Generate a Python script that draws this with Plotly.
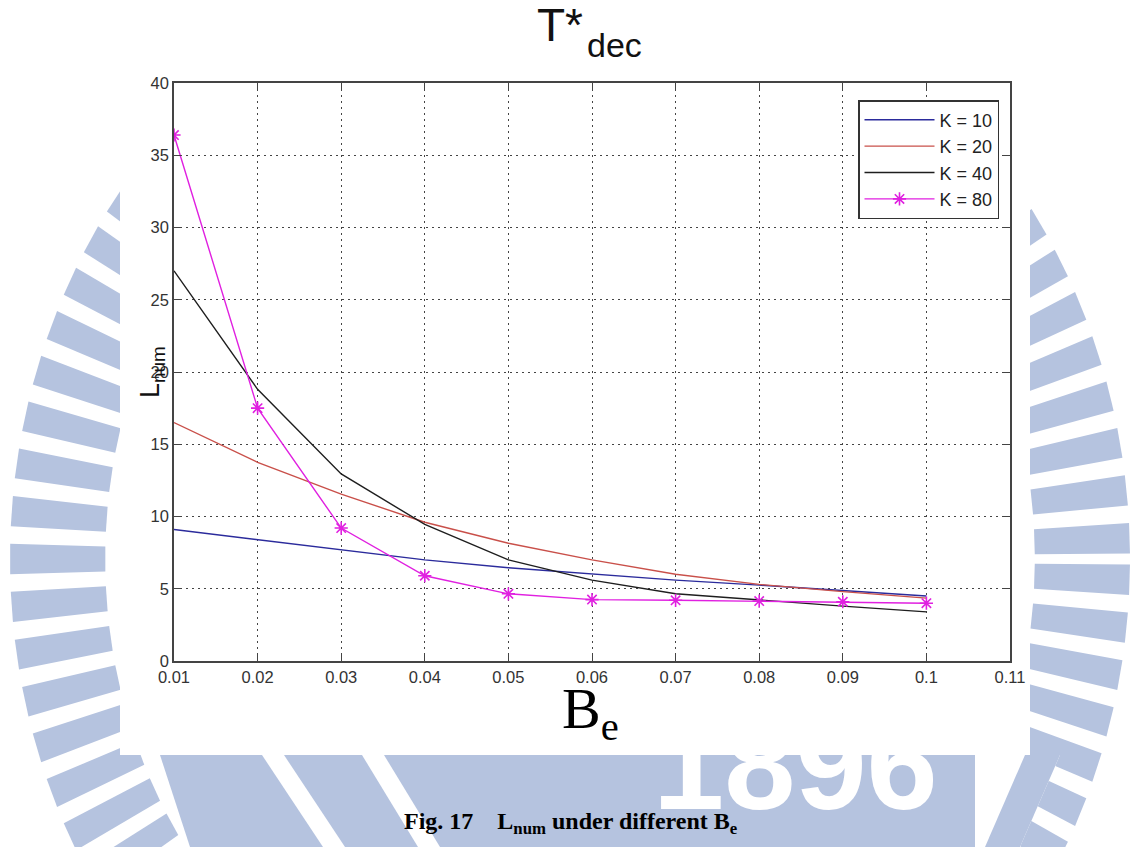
import math
import plotly.graph_objects as go

# ---------------- data ----------------
be_values = [0.01, 0.02, 0.03, 0.04, 0.05, 0.06, 0.07, 0.08, 0.09, 0.10]
k10_values = [9.1, 8.4, 7.65, 7.0, 6.45, 6.0, 5.6, 5.25, 4.85, 4.5]
k20_values = [16.5, 13.75, 11.55, 9.6, 8.15, 7.0, 6.0, 5.3, 4.8, 4.35]
k40_values = [27.0, 18.8, 12.95, 9.45, 7.0, 5.6, 4.65, 4.2, 3.8, 3.4]
k80_values = [36.4, 17.5, 9.2, 5.9, 4.65, 4.25, 4.2, 4.15, 4.1, 4.0]
series_names = ["K = 10", "K = 20", "K = 40", "K = 80"]
x_tick_vals = [0.01, 0.02, 0.03, 0.04, 0.05, 0.06, 0.07, 0.08, 0.09, 0.10, 0.11]
x_tick_text = ["0.01", "0.02", "0.03", "0.04", "0.05", "0.06", "0.07", "0.08", "0.09", "0.1", "0.11"]
y_tick_vals = [0, 5, 10, 15, 20, 25, 30, 35, 40]

# ---------------- layout geometry ----------------
W, H = 1131, 847
L, R, T, B = 174, 121, 83, 186
PW, PH = W - L - R, H - T - B


def px(x):
    return (x - L) / PW


def py(y):
    return (T + PH - y) / PH


WM = "#b5c3df"  # watermark blue

fig = go.Figure()
colors = ["#2b2b9c", "#c9504a", "#1e1e1e", "#e020e0"]
for name, vals, col in zip(series_names, [k10_values, k20_values, k40_values, k80_values], colors):
    if name == "K = 80":
        fig.add_trace(go.Scatter(x=be_values, y=vals, name=name, mode="lines+markers",
                                 line=dict(color=col, width=1.4),
                                 marker=dict(symbol="asterisk-open", size=11,
                                             line=dict(color=col, width=1.6))))
    else:
        fig.add_trace(go.Scatter(x=be_values, y=vals, name=name, mode="lines",
                                 line=dict(color=col, width=1.4)))

shapes = []


def poly(points, color):
    d = "M " + " L ".join(f"{px(x):.5f},{py(y):.5f}" for x, y in points) + " Z"
    shapes.append(dict(type="path", path=d, xref="paper", yref="paper",
                       fillcolor=color, line=dict(width=0), layer="below"))


# ring of bars (ellipse) of the background watermark
cx, cy, rx, ry = 570, 559, 560, 618
s_in = 0.83
pitch = 0.0777
half = 0.0245
for k in range(-40, 41):
    t = math.pi + k * pitch
    pts = []
    for tt, s in [(t - half, s_in), (t - half, 1.0), (t + half, 1.0), (t + half, s_in)]:
        pts.append((cx + s * rx * math.cos(tt), cy - s * ry * math.sin(tt)))
    poly(pts, WM)

# inner blue block at the bottom
poly([(160, 755), (975, 755), (975, 847), (190, 847)], WM)
# white diagonal cut-outs
poly([(262, 755), (284, 755), (345, 847), (323, 847)], "white")
poly([(362, 755), (384, 755), (440, 847), (418, 847)], "white")
# right diagonal band
poly([(975, 755), (1060, 755), (1020, 847), (975, 847)], "white")
poly([(1025, 755), (1060, 755), (1020, 847), (985, 847)], WM)

# white chart-image region
shapes.append(dict(type="rect", xref="paper", yref="paper", x0=px(120), x1=px(1030),
                   y0=py(755), y1=py(0), fillcolor="white", line=dict(width=0), layer="below"))

annotations = [
    dict(text="<b>1896</b>", x=px(795), y=py(838), xref="paper", yref="paper", xanchor="center",
         yanchor="bottom", showarrow=False, font=dict(family="Liberation Sans", size=128, color="white")),
    dict(text="T*", x=px(560), y=py(-3), xref="paper", yref="paper", xanchor="center",
         yanchor="top", showarrow=False, font=dict(family="Liberation Sans", size=46, color="#111")),
    dict(text="dec", x=px(614), y=py(24), xref="paper", yref="paper", xanchor="center",
         yanchor="top", showarrow=False, font=dict(family="Liberation Sans", size=34, color="#111")),
    dict(text="L<sub>num</sub>", x=px(152), y=py(372), xref="paper", yref="paper", xanchor="center",
         yanchor="middle", textangle=-90, showarrow=False,
         font=dict(family="Liberation Sans", size=27, color="#111")),
    dict(text="B<sub>e</sub>", x=px(590), y=py(712), xref="paper", yref="paper", xanchor="center",
         yanchor="middle", showarrow=False,
         font=dict(family="Liberation Serif", size=58, color="#000")),
    dict(text="<b>Fig. 17    L<sub>num</sub> under different B<sub>e</sub></b>", x=px(571), y=py(823),
         xref="paper", yref="paper", xanchor="center", yanchor="middle", showarrow=False,
         font=dict(family="Liberation Serif", size=24, color="#000")),
]

axis_common = dict(showline=True, linecolor="#444", linewidth=1.5, mirror="allticks",
                   ticks="inside", ticklen=7, tickcolor="#444", tickwidth=1.2,
                   showgrid=True, gridcolor="#444", gridwidth=1.2, griddash="2px,4px",
                   zeroline=False, tickfont=dict(family="Liberation Sans", size=16.5, color="#333"))

fig.update_layout(
    width=W, height=H, margin=dict(l=L, r=R, t=T, b=B),
    paper_bgcolor="white", plot_bgcolor="white",
    xaxis=dict(range=[0.01, 0.11], tickvals=x_tick_vals, ticktext=x_tick_text, **axis_common),
    yaxis=dict(range=[0, 40], tickvals=y_tick_vals, **axis_common),
    legend=dict(x=px(999), y=py(100), xanchor="right", yanchor="top",
                bgcolor="white", bordercolor="#333", borderwidth=1.5,
                font=dict(family="Liberation Sans", size=18, color="#222"),
                itemwidth=70, tracegroupgap=0),
    showlegend=True,
    shapes=shapes, annotations=annotations,
)

fig.write_html("out.html")
